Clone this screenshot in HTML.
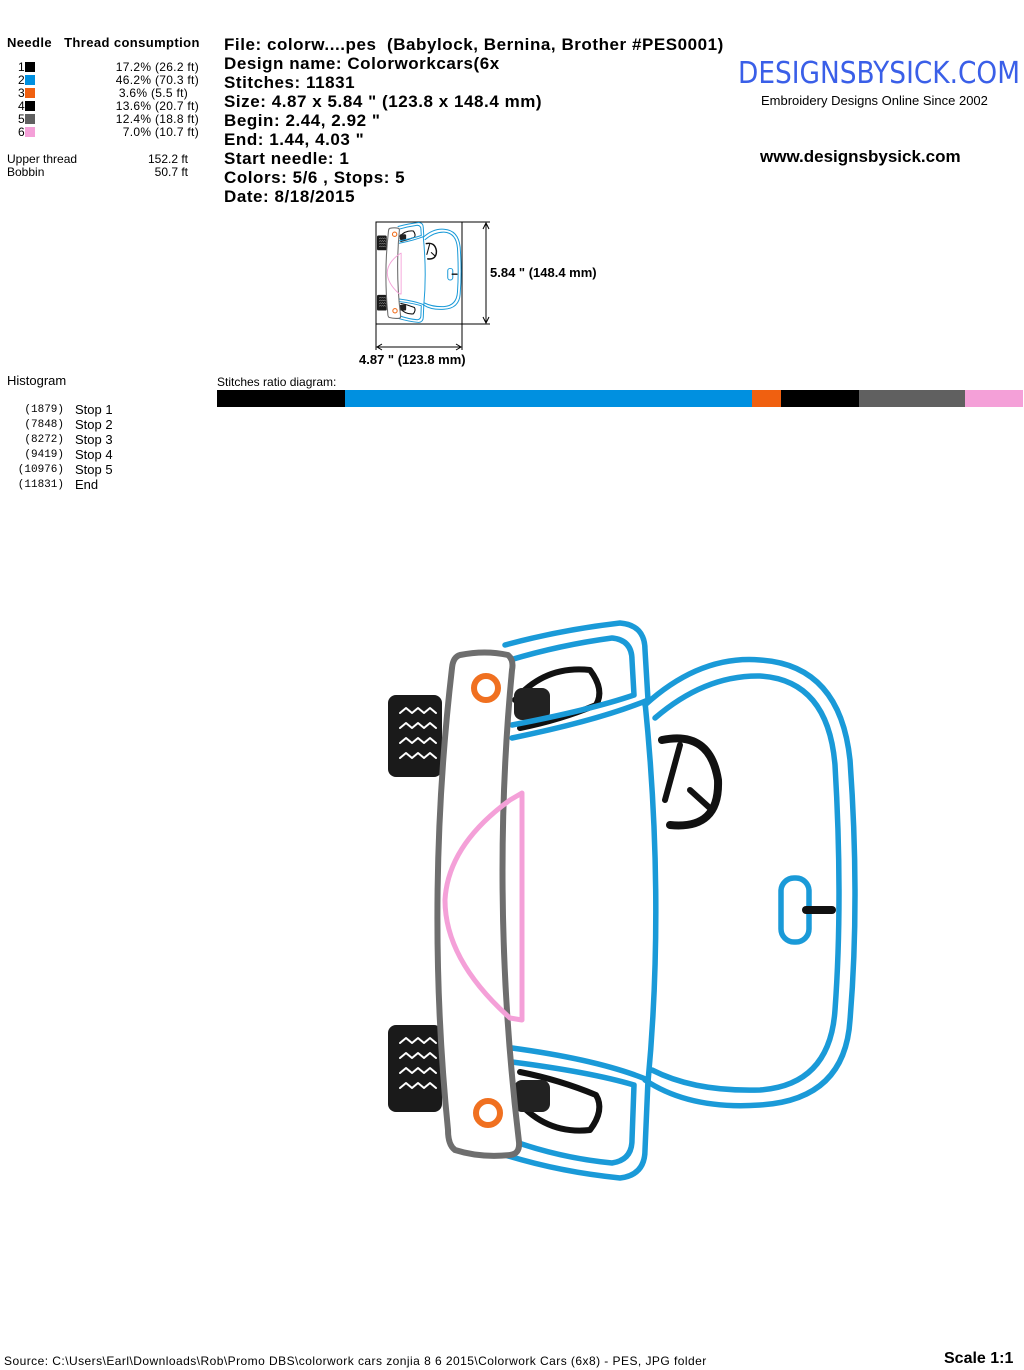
<!DOCTYPE html>
<html><head><meta charset="utf-8"><style>
body{margin:0;width:1024px;height:1370px;background:#fff;position:relative;overflow:hidden;font-family:"Liberation Sans",Arial,sans-serif;color:#000}
.a{position:absolute;white-space:nowrap}
.b{font-weight:bold}
.sw{display:inline-block;width:10px;height:10px;vertical-align:-1px}
.i{font-size:17px;font-weight:bold;line-height:19px;letter-spacing:0.55px}
</style></head><body>
<div class="a b" style="left:7px;top:35px;font-size:13px;letter-spacing:0.4px">Needle&nbsp;&nbsp;&nbsp;Thread consumption</div>
<div class="a" style="left:18px;top:61px;font-size:12px;line-height:13px">
1<span class="sw" style="background:#000"></span><br>2<span class="sw" style="background:#0090e0"></span><br>3<span class="sw" style="background:#f06010"></span><br>4<span class="sw" style="background:#000"></span><br>5<span class="sw" style="background:#606060"></span><br>6<span class="sw" style="background:#f4a0d8"></span></div>
<div class="a" style="left:100px;top:61px;width:99px;text-align:right;font-size:12px;line-height:13px;letter-spacing:0.3px">17.2% (26.2 ft)<br>46.2% (70.3 ft)<br>3.6% (5.5 ft)&nbsp;&nbsp;&nbsp;<br>13.6% (20.7 ft)<br>12.4% (18.8 ft)<br>7.0% (10.7 ft)</div>
<div class="a" style="left:7px;top:153px;font-size:12px;line-height:13px">Upper thread<br>Bobbin</div>
<div class="a" style="left:120px;top:153px;width:68px;text-align:right;font-size:12px;line-height:13px">152.2 ft<br>50.7 ft</div>
<div class="a i" style="left:224px;top:35px">File: colorw....pes&nbsp; (Babylock, Bernina, Brother #PES0001)<br>Design name: Colorworkcars(6x<br>Stitches: 11831<br>Size: 4.87 x 5.84 " (123.8 x 148.4 mm)<br>Begin: 2.44, 2.92 "<br>End: 1.44, 4.03 "<br>Start needle: 1<br>Colors: 5/6 , Stops: 5<br>Date: 8/18/2015</div>
<div class="a" style="left:738px;top:56px;font-size:30px;color:#3a5fe8;font-family:'DejaVu Sans',sans-serif;transform:scaleX(0.88);transform-origin:left">DESIGNSBYSICK.COM</div>
<div class="a" style="left:761px;top:93px;font-size:13px">Embroidery Designs Online Since 2002</div>
<div class="a b" style="left:760px;top:147px;font-size:17px">www.designsbysick.com</div>
<div class="a b" style="left:490px;top:265px;font-size:13px">5.84 " (148.4 mm)</div>
<div class="a b" style="left:359px;top:352px;font-size:13px">4.87 " (123.8 mm)</div>
<div class="a" style="left:7px;top:373px;font-size:13px">Histogram</div>
<div class="a" style="left:217px;top:375px;font-size:12px">Stitches ratio diagram:</div>
<div class="a" style="left:12px;top:403px;width:52px;text-align:right;font-size:11px;line-height:15px;font-family:'Liberation Mono',monospace">(1879)<br>(7848)<br>(8272)<br>(9419)<br>(10976)<br>(11831)</div>
<div class="a" style="left:75px;top:402px;font-size:13px;line-height:15px">Stop 1<br>Stop 2<br>Stop 3<br>Stop 4<br>Stop 5<br>End</div>
<div class="a" style="left:4px;top:1354px;font-size:12px;letter-spacing:0.45px">Source: C:\Users\Earl\Downloads\Rob\Promo DBS\colorwork cars zonjia 8 6 2015\Colorwork Cars (6x8) - PES, JPG folder</div>
<div class="a b" style="left:944px;top:1350px;font-size:16px">Scale 1:1</div>
<svg class="a" style="left:0;top:0" width="1024" height="1370">
<rect x="217" y="390" width="128" height="17" fill="#000"/>
<rect x="345" y="390" width="407" height="17" fill="#0090e0"/>
<rect x="752" y="390" width="29" height="17" fill="#f06010"/>
<rect x="781" y="390" width="78" height="17" fill="#000"/>
<rect x="859" y="390" width="106" height="17" fill="#606060"/>
<rect x="965" y="390" width="58" height="17" fill="#f4a0d8"/>
<rect x="376" y="222" width="86" height="102" fill="none" stroke="#000"/>
<line x1="462" y1="222" x2="490" y2="222" stroke="#000"/>
<line x1="462" y1="324" x2="490" y2="324" stroke="#000"/>
<line x1="486" y1="224" x2="486" y2="322" stroke="#000"/>
<path d="M483 229L486 223L489 229M483 317L486 323L489 317" fill="none" stroke="#000"/>
<line x1="376" y1="324" x2="376" y2="350" stroke="#000"/>
<line x1="462" y1="324" x2="462" y2="350" stroke="#000"/>
<line x1="377" y1="347" x2="461" y2="347" stroke="#000"/>
<path d="M382 344L377 347L382 350M456 344L461 347L456 350" fill="none" stroke="#000"/>
<g id="car" stroke-linecap="round" stroke-linejoin="round" fill="none">
<rect x="388" y="695" width="54" height="82" rx="8" fill="#1a1a1a"/>
<rect x="388" y="1025" width="54" height="87" rx="8" fill="#1a1a1a"/>
<g stroke="#fff" stroke-width="2">
<path d="M400 713l6-5 6 5 6-5 6 5 6-5 6 5M400 728l6-5 6 5 6-5 6 5 6-5 6 5M400 743l6-5 6 5 6-5 6 5 6-5 6 5M400 758l6-5 6 5 6-5 6 5 6-5 6 5"/>
<path d="M400 1043l6-5 6 5 6-5 6 5 6-5 6 5M400 1058l6-5 6 5 6-5 6 5 6-5 6 5M400 1073l6-5 6 5 6-5 6 5 6-5 6 5M400 1088l6-5 6 5 6-5 6 5 6-5 6 5"/>
</g>
<path d="M515 700Q545 665 590 670Q605 690 596 705Q560 720 520 728" stroke="#111" stroke-width="6"/>
<rect x="514" y="688" width="36" height="32" rx="8" fill="#222"/>
<path d="M515 1098Q545 1135 590 1130Q605 1110 596 1095Q560 1080 520 1072" stroke="#111" stroke-width="6"/>
<rect x="514" y="1080" width="36" height="32" rx="8" fill="#222"/>
<path d="M662 740Q710 730 718 780Q720 830 670 825" stroke="#111" stroke-width="8"/>
<path d="M680 745L665 800M690 790L712 810" stroke="#111" stroke-width="6"/>
<g stroke="#1a9ad8" stroke-width="5.5">
<path d="M505 645Q560 630 620 623Q645 625 645 650L648 700Q600 720 512 738"/>
<path d="M510 660Q560 645 612 638Q632 640 632 660L634 695Q590 710 512 725"/>
<path d="M505 1155Q560 1172 620 1178Q645 1175 645 1150L648 1080Q600 1060 512 1048"/>
<path d="M510 1140Q560 1158 612 1163Q632 1160 632 1140L634 1085Q590 1072 512 1062"/>
<path d="M645 705Q700 655 760 660Q840 665 850 760Q860 900 850 1020Q845 1100 760 1105Q690 1110 645 1080"/>
<path d="M655 718Q705 675 760 676Q828 680 835 765Q843 900 835 1010Q830 1085 760 1090Q695 1092 652 1070"/>
<path d="M645 702Q665 900 648 1082"/>
<rect x="781" y="878" width="28" height="64" rx="13"/>
</g>
<path d="M806 910L832 910" stroke="#111" stroke-width="8"/>
<path d="M460 655Q485 650 508 655Q514 660 512 670Q490 900 519 1142Q520 1154 510 1155Q480 1158 455 1150Q448 1145 448 1130Q425 900 452 668Q453 657 460 655Z" fill="#fff" stroke="#6e6e6e" stroke-width="6"/>
<circle cx="486" cy="688" r="12" stroke="#f07020" stroke-width="6"/>
<circle cx="488" cy="1113" r="12" stroke="#f07020" stroke-width="6"/>
<path d="M522 793L522 1020L510 1018Q445 960 445 900Q448 845 510 800Z" stroke="#f4a0d8" stroke-width="5"/>
</g>
<use href="#car" transform="translate(377,222) scale(0.18) translate(-388,-620)"/>
</svg>
</body></html>
